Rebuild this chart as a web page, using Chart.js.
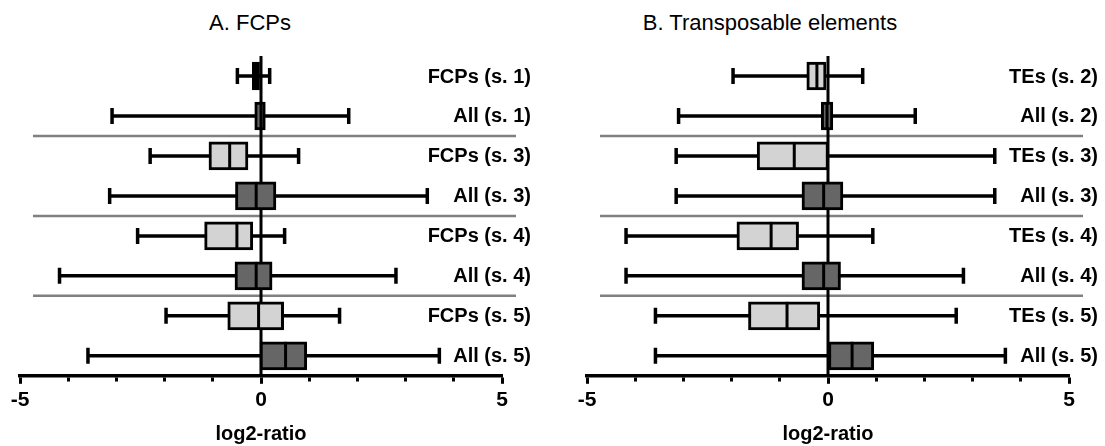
<!DOCTYPE html>
<html>
<head>
<meta charset="utf-8">
<script src="https://cdn.jsdelivr.net/npm/chart.js@4.4.1/dist/chart.umd.min.js"></script>
<style>
  body { margin: 0; background: #fff; }
  #wrap { position: relative; width: 1105px; height: 446px; overflow: hidden; }
  .panel { position: absolute; top: 0; }
  .ttl { position: absolute; top: 10px; font: 22px "Liberation Sans", Arial, sans-serif; color: #000; transform: translateX(-50%); white-space: nowrap; }
</style>
</head>
<body>
<div id="wrap">
  <div class="ttl" style="left:250px">A. FCPs</div>
  <div class="ttl" style="left:770px">B. Transposable elements</div>
  <canvas id="chartA" class="panel" style="left:0" width="552" height="446"></canvas>
  <canvas id="chartB" class="panel" style="left:552px" width="553" height="446"></canvas>
</div>
<script>
// rows top -> bottom
const rowsA = ["FCPs (s. 1)", "All (s. 1)", "FCPs (s. 3)", "All (s. 3)", "FCPs (s. 4)", "All (s. 4)", "FCPs (s. 5)", "All (s. 5)"];
const minA = [-0.49, -3.09, -2.30, -3.14, -2.56, -4.18, -1.97, -3.59];
const q1A  = [-0.18, -0.13, -1.08, -0.53, -1.17, -0.54, -0.69, -0.02];
const medA = [-0.10,  0.00, -0.65, -0.10, -0.50, -0.10, -0.05,  0.51];
const q3A  = [-0.03,  0.09, -0.27,  0.31, -0.17,  0.23,  0.47,  0.95];
const maxA = [ 0.18,  1.82,  0.78,  3.45,  0.49,  2.80,  1.63,  3.70];

const rowsB = ["TEs (s. 2)", "All (s. 2)", "TEs (s. 3)", "All (s. 3)", "TEs (s. 4)", "All (s. 4)", "TEs (s. 5)", "All (s. 5)"];
const minB = [-1.97, -3.10, -3.15, -3.15, -4.19, -4.19, -3.58, -3.58];
const q1B  = [-0.44, -0.14, -1.47, -0.54, -1.89, -0.54, -1.65,  0.00];
const medB = [-0.23, -0.02, -0.70, -0.09, -1.18, -0.09, -0.85,  0.50];
const q3B  = [-0.04,  0.10,  0.01,  0.31, -0.61,  0.26, -0.17,  0.95];
const maxB = [ 0.72,  1.81,  3.46,  3.46,  0.93,  2.81,  2.66,  3.68];

const xTicks = [-5, 0, 5]; // labelled ticks
const LIGHT = "#d3d3d3";
const DARK = "#666666";

// whiskers, medians, separators and row labels around the floating bars
const boxPlugin = {
  id: "boxExtras",
  beforeDatasetsDraw(chart) {
    const o = chart.options.plugins.boxExtras;
    const { ctx, chartArea, scales: { x, y } } = chart;
    ctx.save();
    // group separators (between s.1/s.3, s.3/s.4, s.4/s.5)
    ctx.strokeStyle = "#808080";
    ctx.lineWidth = 2.5;
    [1.5, 3.5, 5.5].forEach(v => {
      const yy = y.getPixelForValue(v);
      ctx.beginPath();
      ctx.moveTo(chartArea.left + 13, yy); ctx.lineTo(chartArea.right + 14, yy);
      ctx.stroke();
    });
    // zero line goes over the separators
    ctx.strokeStyle = "#000";
    ctx.lineWidth = 3;
    const x0 = x.getPixelForValue(0);
    ctx.beginPath();
    ctx.moveTo(x0, chartArea.top); ctx.lineTo(x0, chartArea.bottom);
    ctx.stroke();
    ctx.lineWidth = 3.5;
    o.min.forEach((mn, i) => {
      const yc = y.getPixelForValue(i);
      const xa = x.getPixelForValue(mn);
      const xb = x.getPixelForValue(o.max[i]);
      ctx.beginPath();
      ctx.moveTo(xa, yc); ctx.lineTo(xb, yc);
      ctx.moveTo(xa, yc - 8); ctx.lineTo(xa, yc + 8);
      ctx.moveTo(xb, yc - 8); ctx.lineTo(xb, yc + 8);
      ctx.stroke();
    });
    ctx.restore();
  },
  afterDatasetsDraw(chart) {
    const o = chart.options.plugins.boxExtras;
    const { ctx, chartArea, scales: { x, y } } = chart;
    ctx.save();
    ctx.strokeStyle = "#000";
    ctx.lineWidth = 3;
    o.med.forEach((m, i) => {
      const yc = y.getPixelForValue(i);
      const xm = x.getPixelForValue(m);
      ctx.beginPath();
      ctx.moveTo(xm, yc - 14); ctx.lineTo(xm, yc + 14);
      ctx.stroke();
    });
    ctx.fillStyle = "#000";
    ctx.font = 'bold 20px "Liberation Sans", Arial, sans-serif';
    ctx.textAlign = "right";
    ctx.textBaseline = "middle";
    o.labels.forEach((lab, i) => {
      ctx.fillText(lab, chartArea.right + 29, y.getPixelForValue(i) + 1);
    });
    ctx.restore();
  }
};

function makeChart(id, rows, mins, q1, med, q3, maxs, pad) {
  return new Chart(document.getElementById(id), {
    type: "bar",
    data: {
      labels: rows,
      datasets: [{
        data: q1.map((v, i) => [v, q3[i]]),
        backgroundColor: rows.map(r => r.startsWith("All") ? DARK : LIGHT),
        borderColor: "#000",
        borderWidth: 3,
        borderSkipped: false,
        barThickness: 28
      }]
    },
    options: {
      indexAxis: "y",
      responsive: false,
      animation: false,
      layout: { padding: pad },
      plugins: {
        legend: { display: false },
        tooltip: { enabled: false },
        boxExtras: { min: mins, med: med, max: maxs, labels: rows }
      },
      scales: {
        x: {
          min: -5,
          max: 5,
          ticks: {
            stepSize: 1,
            autoSkip: false,
            maxRotation: 0,
            color: "#000",
            padding: 4,
            font: { family: '"Liberation Sans", Arial, sans-serif', size: 21, weight: "bold" },
            callback: v => xTicks.includes(v) ? String(v) : ""
          },
          grid: {
            drawOnChartArea: false,
            tickColor: "#000",
            tickWidth: 3,
            tickLength: 8,
            tickBorderDash: ctx => ctx.tick && xTicks.includes(ctx.tick.value) ? [] : [4, 20]
          },
          border: { color: "#000", width: 3.5 },
          title: {
            display: true,
            text: "log2-ratio",
            color: "#000",
            padding: { top: 5, bottom: 0 },
            font: { family: '"Liberation Sans", Arial, sans-serif', size: 20, weight: "bold" }
          }
        },
        y: {
          display: false
        }
      }
    },
    plugins: [boxPlugin]
  });
}

makeChart("chartA", rowsA, minA, q1A, medA, q3A, maxA, { top: 56, left: 20, right: 50, bottom: 0 });
makeChart("chartB", rowsB, minB, q1B, medB, q3B, maxB, { top: 56, left: 35, right: 36, bottom: 0 });
</script>
</body>
</html>
